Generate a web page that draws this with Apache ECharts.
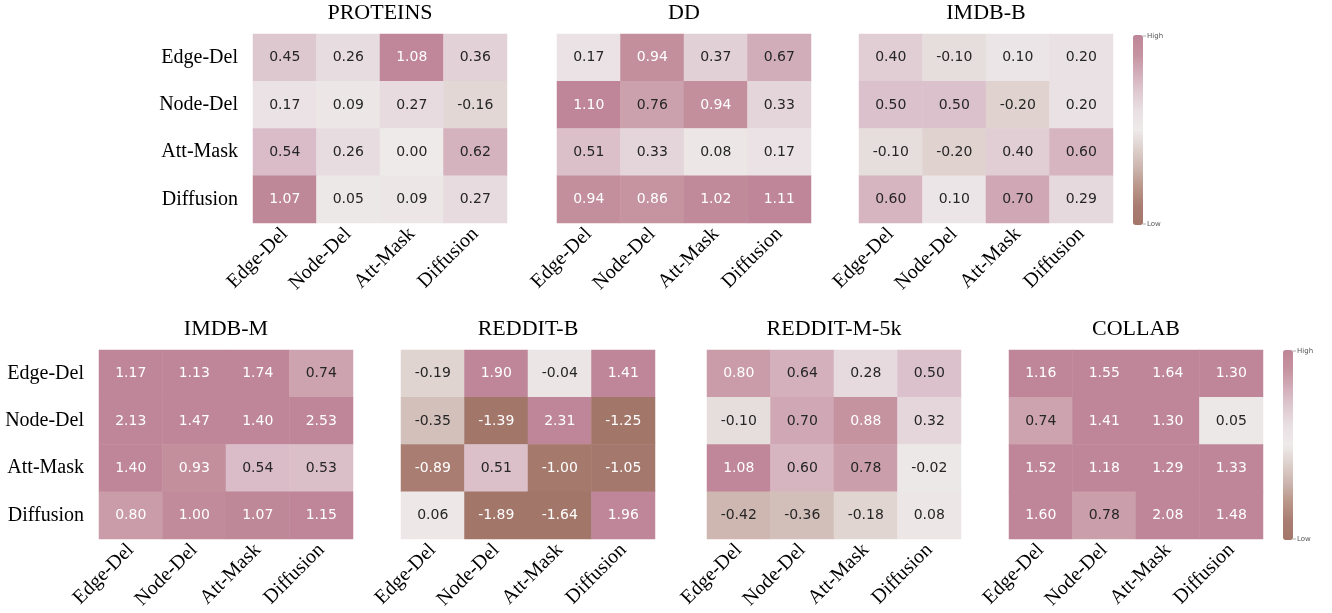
<!DOCTYPE html>
<html>
<head>
<meta charset="utf-8">
<script src="https://cdn.jsdelivr.net/npm/echarts@6/dist/echarts.min.js"></script>
<style>
  html, body { margin: 0; padding: 0; background: #fff; }
  #chart { width: 1332px; height: 613px; }
</style>
</head>
<body>
<div id="chart"></div>
<script>
// augmentation pairs, same order on both axes
var augments = ["Edge-Del", "Node-Del", "Att-Mask", "Diffusion"];

// one 4x4 matrix per dataset, rows = y augment, cols = x augment
var proteins = [
  [0.45, 0.26, 1.08, 0.36],
  [0.17, 0.09, 0.27, -0.16],
  [0.54, 0.26, 0.00, 0.62],
  [1.07, 0.05, 0.09, 0.27]
];
var dd = [
  [0.17, 0.94, 0.37, 0.67],
  [1.10, 0.76, 0.94, 0.33],
  [0.51, 0.33, 0.08, 0.17],
  [0.94, 0.86, 1.02, 1.11]
];
var imdbB = [
  [0.40, -0.10, 0.10, 0.20],
  [0.50, 0.50, -0.20, 0.20],
  [-0.10, -0.20, 0.40, 0.60],
  [0.60, 0.10, 0.70, 0.29]
];
var imdbM = [
  [1.17, 1.13, 1.74, 0.74],
  [2.13, 1.47, 1.40, 2.53],
  [1.40, 0.93, 0.54, 0.53],
  [0.80, 1.00, 1.07, 1.15]
];
var redditB = [
  [-0.19, 1.90, -0.04, 1.41],
  [-0.35, -1.39, 2.31, -1.25],
  [-0.89, 0.51, -1.00, -1.05],
  [0.06, -1.89, -1.64, 1.96]
];
var redditM5k = [
  [0.80, 0.64, 0.28, 0.50],
  [-0.10, 0.70, 0.88, 0.32],
  [1.08, 0.60, 0.78, -0.02],
  [-0.42, -0.36, -0.18, 0.08]
];
var collab = [
  [1.16, 1.55, 1.64, 1.30],
  [0.74, 1.41, 1.30, 0.05],
  [1.52, 1.18, 1.29, 1.33],
  [1.60, 0.78, 2.08, 1.48]
];

var titles = ["PROTEINS", "DD", "IMDB-B", "IMDB-M", "REDDIT-B", "REDDIT-M-5k", "COLLAB"];
var matrices = [proteins, dd, imdbB, imdbM, redditB, redditM5k, collab];
var colorbarLabels = ["High", "Low"];

// brown (low) -> light grey -> mauve (high), evenly spaced over [-1.1, 1.1]
var palette = [
  "#a3766a", "#a97d71", "#b99689", "#ccb5ae", "#ddd0cc", "#eeeaea",
  "#e9e0e3", "#dfc9d1", "#d2adba", "#c5929f", "#be8698"
];

var chart = echarts.init(document.getElementById("chart"));

// panel boxes [left, top, width, height]
var panels = [
  [253, 34, 254, 189], [557, 34, 254, 189], [859, 34, 254, 189],
  [99, 350, 254, 189], [401, 350, 254, 189], [707, 350, 254, 189], [1009, 350, 254, 189]
];

var serif = "'Liberation Serif', 'DejaVu Serif', serif";

var grids = [], xAxes = [], yAxes = [], series = [], graphics = [];

panels.forEach(function (p, i) {
  var firstInRow = (i === 0 || i === 3);
  grids.push({ left: p[0], top: p[1], width: p[2], height: p[3] });
  xAxes.push({
    type: "category", gridIndex: i, data: augments,
    axisLine: { show: false }, axisTick: { show: false }, splitArea: { show: false },
    axisLabel: { rotate: 45, margin: 8, fontFamily: serif, fontSize: 20, color: "#000" }
  });
  yAxes.push({
    type: "category", gridIndex: i, data: augments, inverse: true,
    axisLine: { show: false }, axisTick: { show: false },
    axisLabel: { show: firstInRow, margin: 15, fontFamily: serif, fontSize: 20, color: "#000" }
  });

  var data = [];
  matrices[i].forEach(function (row, r) {
    row.forEach(function (v, c) {
      data.push({
        value: [c, r, v],
        label: { color: Math.abs(v) >= 0.8 ? "#ffffff" : "#262626" }
      });
    });
  });

  series.push({
    type: "heatmap", xAxisIndex: i, yAxisIndex: i, data: data,
    label: {
      show: true, fontFamily: "'DejaVu Sans', sans-serif", fontSize: 14,
      formatter: function (prm) { return prm.value[2].toFixed(2); }
    },
    emphasis: { disabled: true }
  });

  graphics.push({
    type: "text", x: p[0] + p[2] / 2, y: p[1] - 21,
    style: { text: titles[i], fontFamily: serif, fontSize: 22, fill: "#000", align: "center", verticalAlign: "middle" }
  });
});

// colorbars, one per row
var bars = [
  { left: 1133, top: 35, series: [0, 1, 2] },
  { left: 1283, top: 350, series: [3, 4, 5, 6] }
];
var visualMaps = bars.map(function (b) {
  return {
    type: "continuous", min: -1.1, max: 1.1, seriesIndex: b.series,
    left: b.left, top: b.top, itemWidth: 10, itemHeight: 190, padding: 0,
    calculable: false, text: null, showLabel: false,
    inRange: { color: palette }
  };
});
bars.forEach(function (b) {
  [[b.top + 1, colorbarLabels[0]], [b.top + 189, colorbarLabels[1]]].forEach(function (t) {
    graphics.push({
      type: "line", shape: { x1: b.left + 10, y1: t[0], x2: b.left + 13, y2: t[0] },
      style: { stroke: "#999", lineWidth: 0.8 }
    });
    graphics.push({
      type: "text", x: b.left + 14, y: t[0],
      style: { text: t[1], fontFamily: "'DejaVu Sans', sans-serif", fontSize: 7, fill: "#555", verticalAlign: "middle" }
    });
  });
});

chart.setOption({
  animation: false,
  grid: grids,
  xAxis: xAxes,
  yAxis: yAxes,
  visualMap: visualMaps,
  series: series,
  graphic: graphics
});
</script>
</body>
</html>
